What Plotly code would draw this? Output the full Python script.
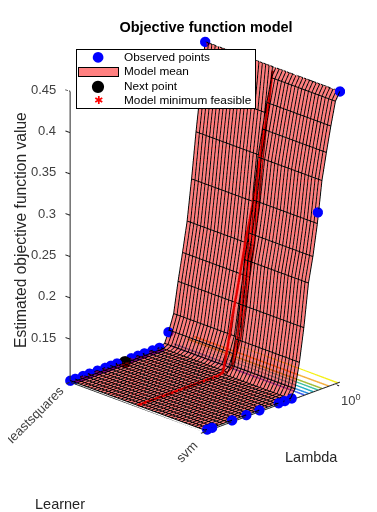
import plotly.graph_objects as go

# Lambda grid (log-spaced values), learner positions
lam_exp = [-9.6,-9.27,-8.93,-8.6,-8.27,-7.93,-7.6,-7.27,-6.93,-6.6,-6.27,-5.93,-5.6,-5.27,-4.93,-4.6,-4.27,-3.93,-3.6,-3.27,-2.93,-2.6,-2.27,-1.93,-1.6,-1.27,-0.93,-0.6,-0.27,0.07,0.4]
lambda_grid = [10**e for e in lam_exp]
learner_grid = [0,0.025,0.05,0.075,0.1,0.125,0.15,0.175,0.2,0.225,0.25,0.275,0.3,0.325,0.35,0.375,0.4,0.425,0.45,0.475,0.5,0.525,0.55,0.575,0.6,0.625,0.65,0.675,0.7,0.725,0.75,0.775,0.8,0.825,0.85,0.875,0.9,0.925,0.95,0.975,1]
z_leastsquares = [.1,.1,.1,.1,.1,.1,.1,.1,.1,.1,.1,.1,.1,.1,.1,.1,.1,.1,.1,.1,.1,.103,.117,.135,.172,.205,.241,.29,.345,.395,.45]
z_svm = [.1,.1,.1,.1,.1,.1,.1,.1,.1,.1,.1,.1,.1,.1,.1,.1,.1,.1,.1,.1,.11,.14,.18,.232,.262,.30,.35,.382,.412,.44,.45]
z_min_feasible = [.1,.1,.1,.1,.1,.1,.1,.1,.1,.1,.1,.1,.1,.1,.1,.1,.1,.1,.1,.102,.13,.163,.19,.22,.25,.276,.305,.335,.365,.40,.445]

obs_ls_exp = [-9.6,-9.23,-8.66,-8.17,-7.58,-7.01,-6.59,-6.14,-5.08,-4.58,-4.1,-3.5,-2.99,-2.32,0.4]
obs_ls_z = [.1,.1,.1,.1,.1,.1,.1,.1,.1,.1,.1,.1,.1,.115,.45]
obs_svm_exp = [-9.45,-9.08,-7.6,-6.54,-5.57,-4.15,-3.7,-3.18,-1.24,0.4]
obs_svm_z = [.1,.1,.1,.1,.1,.1,.1,.1,.3135,.45]
next_exp = [-5.7]
next_x = [0.015]
next_z = [.1]

contour_exp = [-2.2,-1.9,-1.55,-1.2,-0.9,-0.4,0.25]
contour_colors = ['#3d5cf0','#2a8fe0','#1fb0c0','#3cc0a0','#a5be3a','#f5b040','#f5f015']
Z_FLOOR = 0.098
Z_TOP = 0.45
LEARNER_MIN, LEARNER_MAX = 0, 1
LAM_MIN, LAM_MAX = 10**-9.6, 10**0.4
TICK_LEARNER = 0.035   # tick length along the Learner direction
TICK_LAM_EXP = 0.3     # tick length along the Lambda direction, decades

z_ticks = [0.15,0.2,0.25,0.3,0.35,0.4,0.45]
z_tick_text = ['0.15','0.2','0.25','0.3','0.35','0.4','0.45']
lambda_ticks = [1]
learner_ticks = [0,1]

legend_labels = ['Observed points','Model mean','Next point','Model minimum feasible']

FONT = 'Liberation Sans, Arial, sans-serif'
# the page has an 8px body margin; figure is sized so that it ends at the window edge
W, H = 369, 504
def px(x): return (x-8)/W
def py(y): return 1-(y-8)/H

fig = go.Figure()

# x = Learner, y = Lambda : z is indexed [y][x]
Zrow = [[(zl if t <= 0.5 else zs) for t in learner_grid] for zl, zs in zip(z_leastsquares, z_svm)]
fig.add_trace(go.Surface(x=learner_grid, y=lambda_grid, z=Zrow, opacity=0.5, showscale=False,
    colorscale=[[0,'#ff0000'],[1,'#ff0000']], hoverinfo='skip', showlegend=False, name='Model mean',
    lighting=dict(ambient=1,diffuse=0,specular=0,fresnel=0,roughness=1)))

# floor contours
for e,c in zip(contour_exp, contour_colors):
    fig.add_trace(go.Scatter3d(x=[0,1], y=[10**e,10**e], z=[Z_FLOOR,Z_FLOOR], mode='lines',
        line=dict(color=c,width=3), showlegend=False, hoverinfo='skip'))

# axis box lines and tick marks: one trace per segment
segments = [
    ([LEARNER_MIN,LEARNER_MIN],[LAM_MIN,LAM_MIN],[Z_TOP,Z_FLOOR]),
    ([LEARNER_MIN,LEARNER_MAX],[LAM_MIN,LAM_MIN],[Z_FLOOR,Z_FLOOR]),
    ([LEARNER_MAX,LEARNER_MAX],[LAM_MIN,LAM_MAX],[Z_FLOOR,Z_FLOOR]),
]
for v in z_ticks:
    segments.append(([LEARNER_MIN,LEARNER_MIN-TICK_LEARNER],[LAM_MIN,LAM_MIN],[v,v]))
for t in learner_ticks:
    segments.append(([t,t],[LAM_MIN,LAM_MIN*10**(-TICK_LAM_EXP)],[Z_FLOOR,Z_FLOOR]))
for l in lambda_ticks:
    segments.append(([LEARNER_MAX,LEARNER_MAX+TICK_LEARNER],[l,l],[Z_FLOOR,Z_FLOOR]))
for sx,sy,sz in segments:
    fig.add_trace(go.Scatter3d(x=sx,y=sy,z=sz,mode='lines',line=dict(color='#262626',width=2),showlegend=False,hoverinfo='skip'))

# mesh
mx,my,mz=[],[],[]
for j,t in enumerate(learner_grid):
    for i,l in enumerate(lambda_grid):
        mx.append(t); my.append(l); mz.append(Zrow[i][j])
    mx.append(None); my.append(None); mz.append(None)
for i,l in enumerate(lambda_grid):
    for j,t in enumerate(learner_grid):
        mx.append(t); my.append(l); mz.append(Zrow[i][j])
    mx.append(None); my.append(None); mz.append(None)
fig.add_trace(go.Scatter3d(x=mx,y=my,z=mz,mode='lines',line=dict(color='black',width=2),showlegend=False,hoverinfo='skip'))

fig.add_trace(go.Scatter3d(x=[0.5]*len(lambda_grid),y=lambda_grid,z=z_min_feasible,mode='lines',
    line=dict(color='#e00000',width=5),showlegend=False,hoverinfo='skip',name='Model minimum feasible'))

fig.add_trace(go.Scatter3d(y=[10**e for e in obs_ls_exp]+[10**e for e in obs_svm_exp],
    x=[0]*len(obs_ls_exp)+[1]*len(obs_svm_exp), z=obs_ls_z+obs_svm_z, mode='markers',showlegend=False,
    marker=dict(color='#0000ff',size=6,line=dict(width=0)), name='Observed points'))
fig.add_trace(go.Scatter3d(y=[10**e for e in next_exp],x=next_x,z=next_z,mode='markers',showlegend=False,
    marker=dict(color='black',size=7,line=dict(width=0)),name='Next point'))

ann = []
for v,t in zip(z_ticks,z_tick_text):
    ann.append(dict(y=-9.6,x=0,z=v,text=t,showarrow=False,xanchor='right',yanchor='middle',xshift=-12,yshift=2,
                    font=dict(family=FONT,size=13,color='#404040')))
ann.append(dict(y=-9.6,x=0,z=Z_FLOOR,text='leastsquares',showarrow=False,textangle=-45,xanchor='center',yanchor='middle',xshift=-35,yshift=-32,
                font=dict(family=FONT,size=13,color='#404040')))
ann.append(dict(y=-9.6,x=1,z=Z_FLOOR,text='svm',showarrow=False,textangle=-45,xanchor='center',yanchor='middle',xshift=-18,yshift=-20,
                font=dict(family=FONT,size=13,color='#404040')))
ann.append(dict(y=0,x=1,z=Z_FLOOR,text='10<sup>0</sup>',showarrow=False,xanchor='center',yanchor='middle',xshift=17,yshift=-16,
                font=dict(family=FONT,size=13,color='#404040')))

def note(text,x,y,size,color,family=FONT,**kw):
    d=dict(text=text,xref='paper',yref='paper',x=px(x),y=py(y),showarrow=False,xanchor='center',yanchor='middle',
           font=dict(family=family,size=size,color=color))
    d.update(kw)
    return d

paper_ann = [
    note('Estimated objective function value',20,230,15.6,'#262626',textangle=-90),
    note('Lambda',311,457,14.5,'#262626'),
    note('Learner',60,504,14.5,'#262626'),
    # legend box, keys and labels
    note(' ',75.5,48.5,10,'black',xanchor='left',yanchor='top',width=178,height=58,bgcolor='white',bordercolor='black',borderwidth=1,borderpad=0),
    note(' ',78,66.5,10,'black',xanchor='left',yanchor='top',width=39,height=8,bgcolor='#ff8080',bordercolor='black',borderwidth=1,borderpad=0),
    note('●',98,56.5,14,'#0000ff',family='DejaVu Sans'),
    note('●',98,85.5,16,'black',family='DejaVu Sans'),
    note('✱',98,100.5,11,'red',family='DejaVu Sans'),
]
for label, cy in zip(legend_labels,[56.7,71,85.7,100]):
    paper_ann.append(note(label,122,cy,11.8,'black',xanchor='left'))

ax_common = dict(showgrid=False,zeroline=False,showbackground=False,showspikes=False,showline=False,
                 ticks='',showticklabels=False,title=dict(text=''))
fig.update_layout(
    width=W,height=H,autosize=False,margin=dict(l=0,r=0,t=0,b=0),
    paper_bgcolor='white',showlegend=False,
    title=dict(text='<b>Objective function model</b>',x=px(206),xanchor='center',y=py(27),yanchor='middle',
               font=dict(family=FONT,size=14.5,color='black')),
    font=dict(family=FONT,color='#262626'),
    scene=dict(domain=dict(x=[21/W,1],y=[1-459/H,1]),
        aspectmode='manual',aspectratio=dict(x=0.897,y=0.8645,z=1.363),
        camera=dict(eye=dict(x=1.5,y=-1.5,z=0.84),up=dict(x=0,y=0,z=1),center=dict(x=0,y=0,z=0),projection=dict(type='orthographic')),
        yaxis=dict(type='log',range=[-9.95,0.45],**ax_common),
        xaxis=dict(range=[-0.04,1.04],**ax_common),
        zaxis=dict(range=[Z_FLOOR,Z_TOP],**ax_common),
        annotations=ann),
    annotations=paper_ann,
)
fig.write_html('out.html')
